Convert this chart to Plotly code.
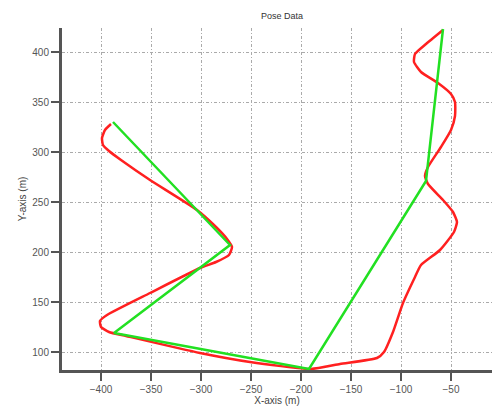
import plotly.graph_objects as go

# Estimated pose (red, smooth)
est_x = [-390, -396, -399, -398, -392, -380, -351, -304, -285, -274, -269, -272, -285, -301, -351,
         -394, -401, -400, -392, -375, -301, -251, -190, -161, -124, -117, -108, -98, -86,
         -80, -61, -47, -44, -48, -58, -73, -76, -73, -60, -50, -46, -46, -50, -63, -80,
         -87, -86, -75, -58]
est_y = [328, 322, 314, 307, 301, 292, 272, 242, 225, 213, 205, 197, 190, 184, 159,
         137, 131, 125, 120, 116, 99, 90, 83, 88, 94, 100, 120, 149, 175,
         187, 202, 220, 230, 240, 252, 268, 276, 285, 305, 322, 336, 350, 358, 369, 380,
         390, 398, 408, 422]

# Ground truth pose (green, straight segments)
gt_x = [-388, -271, -387, -192, -75, -58]
gt_y = [330, 207, 119, 83, 271, 423]

x_ticks = [-400, -350, -300, -250, -200, -150, -100, -50]
y_ticks = [100, 150, 200, 250, 300, 350, 400]

fig = go.Figure()
fig.add_trace(go.Scatter(x=est_x, y=est_y, mode="lines",
                         line=dict(color="#ff2020", width=2.5, shape="spline", smoothing=0.5),
                         showlegend=False))
fig.add_trace(go.Scatter(x=gt_x, y=gt_y, mode="lines",
                         line=dict(color="#22e022", width=2.5),
                         showlegend=False))

axis_common = dict(
    showgrid=True, gridcolor="#aaaaaa", griddash="3px,2px,1px,2px", gridwidth=1,
    showline=True, linecolor="#555555", linewidth=3,
    ticks="outside", ticklen=8, tickwidth=2, tickcolor="#555555",
    tickfont=dict(family="Liberation Sans, Arial", size=10, color="#555555"),
    zeroline=False, mirror=False,
)

fig.update_layout(
    width=492, height=415,
    margin=dict(l=62, r=0, t=28, b=45),
    paper_bgcolor="white", plot_bgcolor="white",
    title=dict(text="Pose Data", x=0.573, xanchor="center", y=0.962, yanchor="middle",
               font=dict(family="Liberation Sans, Arial", size=9, color="#333333")),
    xaxis=dict(range=[-439, -9], tickvals=x_ticks,
               title=dict(text="X-axis (m)", standoff=3,
                          font=dict(family="Liberation Sans, Arial", size=10, color="#444444")),
               **axis_common),
    yaxis=dict(range=[82, 424], tickvals=y_ticks,
               title=dict(text="Y-axis (m)", standoff=4,
                          font=dict(family="Liberation Sans, Arial", size=10, color="#444444")),
               **axis_common),
)

fig.write_html("out.html")
